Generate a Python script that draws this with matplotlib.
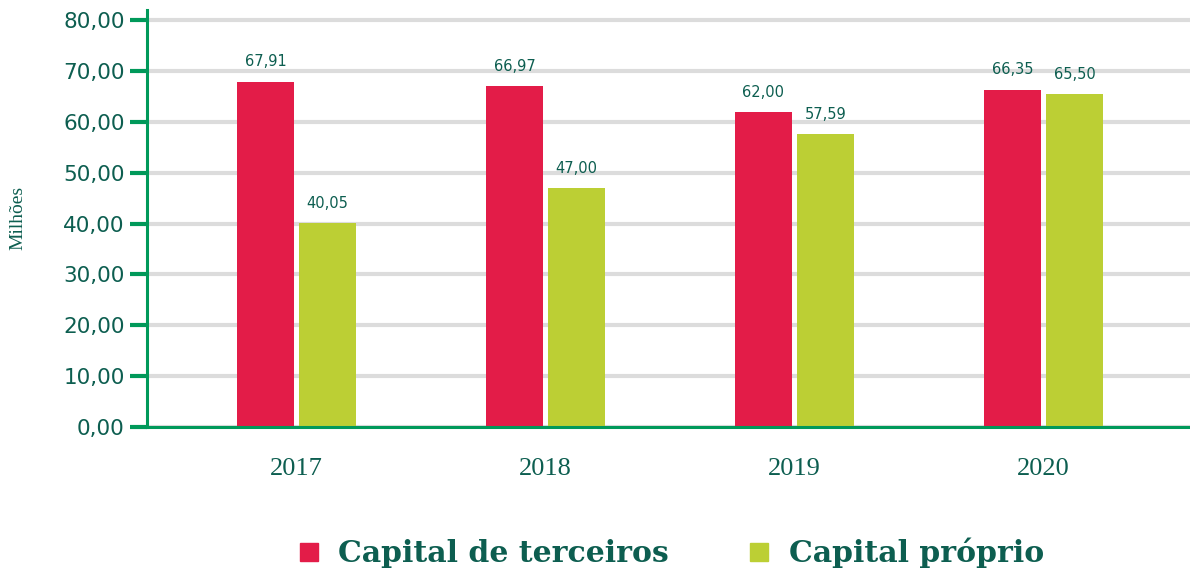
import matplotlib
matplotlib.use("Agg")
import matplotlib.pyplot as plt
import numpy as np
from matplotlib.lines import Line2D

anos = ["2017", "2018", "2019", "2020"]
capital_terceiros = [67.91, 66.97, 62.00, 66.35]
capital_proprio = [40.05, 47.00, 57.59, 65.50]
rotulos_terceiros = ["67,91", "66,97", "62,00", "66,35"]
rotulos_proprio = ["40,05", "47,00", "57,59", "65,50"]
yticks = [0, 10, 20, 30, 40, 50, 60, 70, 80]
ytick_labels = ["0,00", "10,00", "20,00", "30,00", "40,00", "50,00", "60,00", "70,00", "80,00"]

vermelho = "#e31c48"
verde_lima = "#bccf34"
texto = "#0d5e50"
verde_eixo = "#00995a"
cinza = "#dcdcdc"

fig = plt.figure(figsize=(11.9, 5.75), dpi=100)
ax = fig.add_axes([0.1235, 0.2574, 0.8765, 0.7252])

x = np.arange(len(anos))
w = 0.229
off = 0.1245
ax.bar(x - off, capital_terceiros, width=w, color=vermelho, zorder=3)
ax.bar(x + off, capital_proprio, width=w, color=verde_lima, zorder=3)

# rotulos acima das barras
for i in range(len(anos)):
    ax.text(x[i] - off, capital_terceiros[i] + 2.4, rotulos_terceiros[i], ha="center", va="bottom",
            fontsize=10.5, color=texto)
    ax.text(x[i] + off, capital_proprio[i] + 2.4, rotulos_proprio[i], ha="center", va="bottom",
            fontsize=10.5, color=texto)

ax.set_xlim(-0.6, 3.588)
ax.set_ylim(0, 82)
ax.set_yticks(yticks)
ax.set_yticklabels(ytick_labels, fontsize=15.5, color=texto)
ax.set_xticks(x)
ax.set_xticklabels(anos, fontsize=19, color=texto, family="Liberation Serif")
ax.tick_params(axis="x", length=0, pad=22)
ax.tick_params(axis="y", length=12, width=3, color=verde_eixo, pad=4)
ax.yaxis.grid(True, color=cinza, linewidth=3)
ax.set_axisbelow(True)

for s in ["top", "right"]:
    ax.spines[s].set_visible(False)
ax.spines["left"].set_color(verde_eixo)
ax.spines["left"].set_linewidth(2.2)
ax.spines["bottom"].set_color(verde_eixo)
ax.spines["bottom"].set_linewidth(2.2)
ax.spines["bottom"].set_zorder(4)

fig.text(0.015, 0.621, "Milhões", rotation=90, ha="center", va="center",
         fontsize=14, color=texto, family="Liberation Serif")

handles = [
    Line2D([], [], marker="s", linestyle="none", markersize=12.5, color=vermelho),
    Line2D([], [], marker="s", linestyle="none", markersize=12.5, color=verde_lima),
]
fig.legend(handles, ["Capital de terceiros", "Capital próprio"], loc="center",
           bbox_to_anchor=(0.562, 0.038), ncol=2, frameon=False, handletextpad=0.5,
           columnspacing=2.5, handlelength=1.0,
           prop={"family": "DejaVu Serif", "weight": "bold", "size": 21.5},
           labelcolor=texto)

fig.savefig("out.png", dpi=100)
